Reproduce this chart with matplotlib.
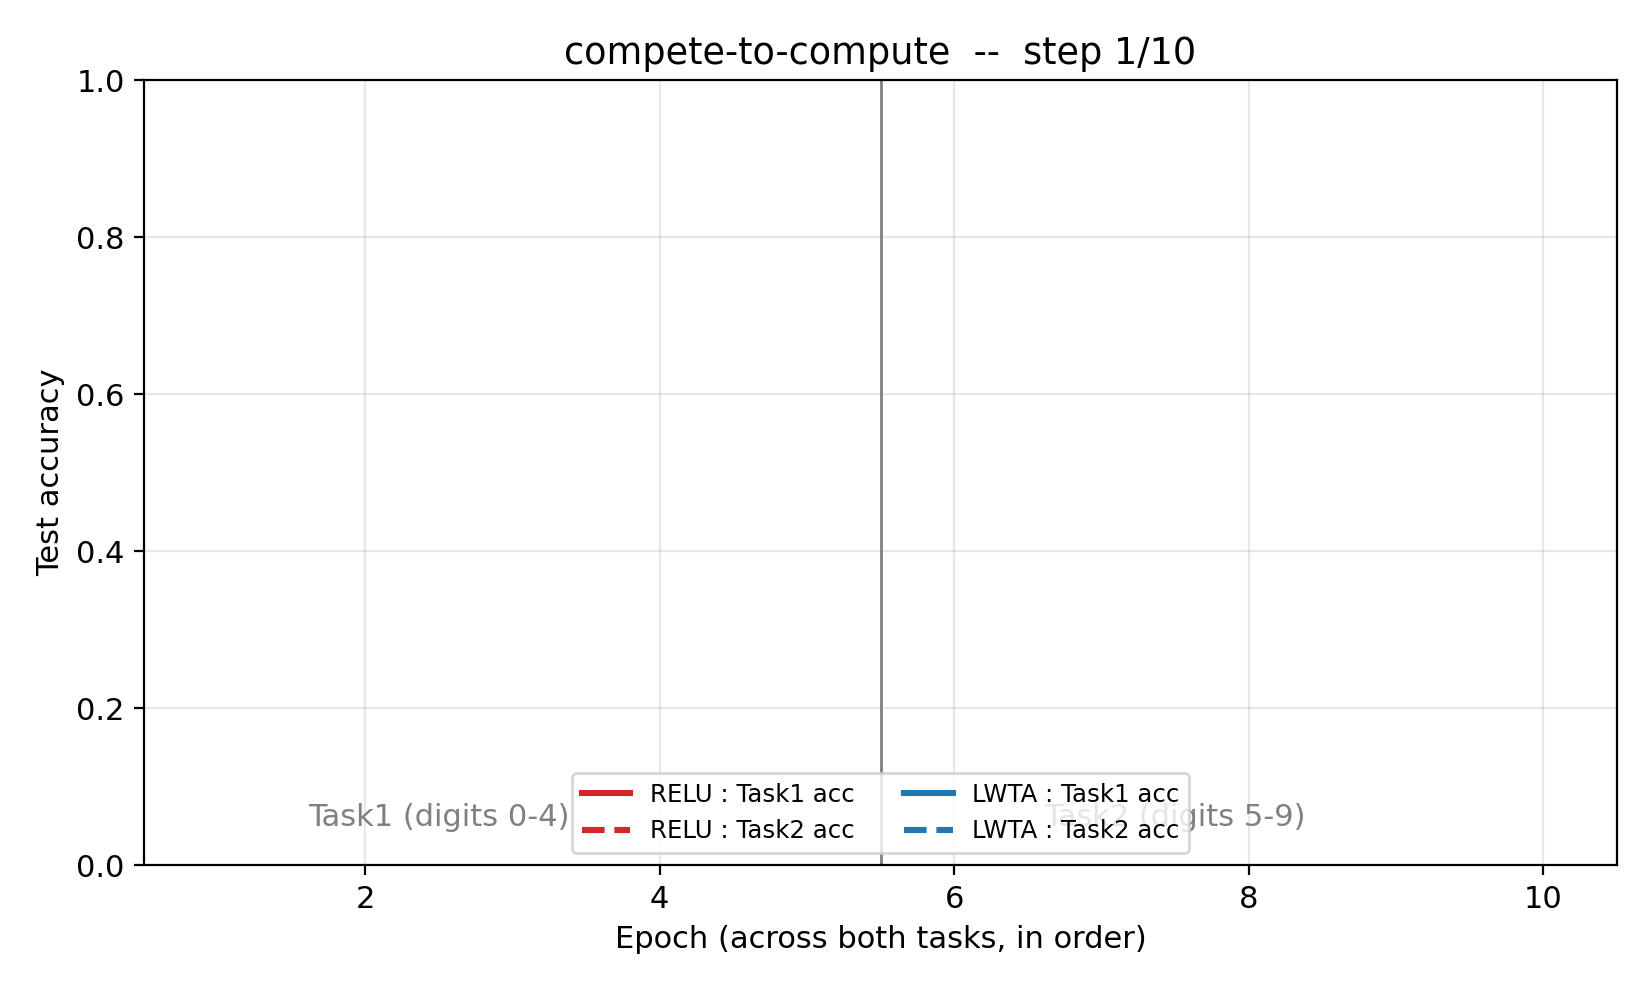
import matplotlib.pyplot as plt

plt.rcParams["font.size"] = 11

# step 1 of 10: nothing drawn yet
epochs = []
relu_task1 = []
relu_task2 = []
lwta_task1 = []
lwta_task2 = []

n_epochs = 5
n_total = 10
step = 1

fig, ax = plt.subplots(figsize=(8.25, 4.95), dpi=200)

ax.plot(epochs, relu_task1, color="tab:red", lw=2.2, ls="-", label="RELU : Task1 acc")
ax.plot(epochs, relu_task2, color="tab:red", lw=2.2, ls="--", label="RELU : Task2 acc")
ax.plot(epochs, lwta_task1, color="tab:blue", lw=2.2, ls="-", label="LWTA : Task1 acc")
ax.plot(epochs, lwta_task2, color="tab:blue", lw=2.2, ls="--", label="LWTA : Task2 acc")

ax.axvline(n_epochs + 0.5, color="gray", lw=1)
ax.text(n_epochs / 2, 0.05, "Task1 (digits 0-4)", ha="center", color="gray")
ax.text(n_epochs + n_epochs / 2, 0.05, "Task2 (digits 5-9)", ha="center", color="gray")

ax.set_xlim(0.5, n_total + 0.5)
ax.set_ylim(0, 1)
ax.set_xticks([2, 4, 6, 8, 10])
ax.set_xlabel("Epoch (across both tasks, in order)")
ax.set_ylabel("Test accuracy")
ax.set_title(f"compete-to-compute  --  step {step}/{n_total}")
ax.grid(True, alpha=0.3)
ax.legend(loc="lower center", ncol=2, fontsize=8.8)

fig.subplots_adjust(left=0.0873, right=0.98, top=0.919, bottom=0.126)
fig.savefig("out.png", dpi=200)
